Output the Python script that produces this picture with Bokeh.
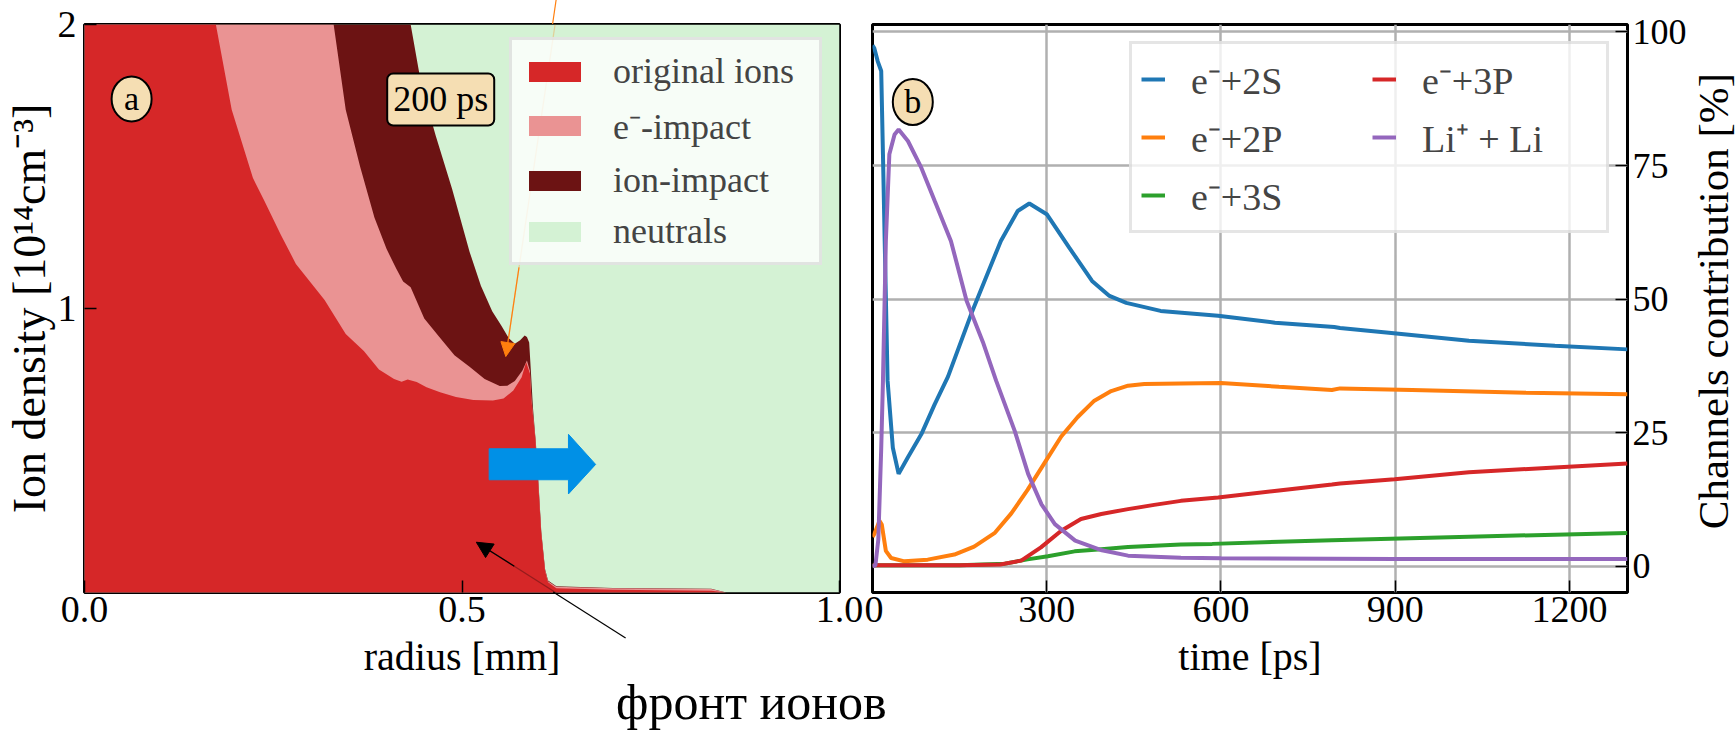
import math
from bokeh.plotting import figure
from bokeh.models import (Legend, LegendItem, Label, Arrow, NormalHead, PolyAnnotation,
                          Div, FixedTicker, NumeralTickFormatter, Range1d)
from bokeh.layouts import row, column
from bokeh.embed import file_html
from bokeh.resources import INLINE

FONT = "Liberation Serif"

# ---------------- panel (a): ion density profile at 200 ps ----------------
# cumulative densities [1e14 cm^-3] versus radius [mm]
r_total = [0.0, 1.0]
n_total = [2.0, 2.0]            # everything up to the top of the axis is neutral gas

r_ion = [0.0, 0.432, 0.446, 0.465, 0.487, 0.510, 0.525, 0.540, 0.552, 0.562, 0.570, 0.577,
         0.583, 0.586, 0.589, 0.591, 0.594, 0.598, 0.601, 0.605, 0.610, 0.614, 0.625, 0.700,
         0.830, 0.850, 1.0]
n_ion = [2.0, 2.0, 1.79, 1.61, 1.42, 1.20, 1.08, 0.99, 0.94, 0.895, 0.876, 0.888,
         0.905, 0.90, 0.88, 0.79, 0.65, 0.52, 0.40, 0.215, 0.083, 0.042, 0.022, 0.016,
         0.013, 0.0, 0.0]

r_e = [0.0, 0.330, 0.346, 0.365, 0.384, 0.400, 0.413, 0.422, 0.432, 0.450, 0.470, 0.490,
       0.510, 0.530, 0.550, 0.560, 0.570, 0.580, 0.586, 0.590, 0.592, 0.597, 0.601, 0.605,
       0.610, 0.614, 0.625, 0.700, 0.830, 0.850, 1.0]
n_e = [2.0, 2.0, 1.70, 1.50, 1.32, 1.21, 1.14, 1.095, 1.075, 0.965, 0.90, 0.835,
       0.795, 0.752, 0.727, 0.728, 0.745, 0.782, 0.817, 0.78, 0.68, 0.55, 0.39, 0.21,
       0.08, 0.04, 0.02, 0.015, 0.012, 0.0, 0.0]

r_orig = [0.0, 0.174, 0.195, 0.223, 0.238, 0.260, 0.280, 0.318, 0.346, 0.370, 0.390, 0.410,
          0.420, 0.428, 0.440, 0.453, 0.471, 0.492, 0.515, 0.541, 0.555, 0.568, 0.579, 0.585,
          0.590, 0.592, 0.597, 0.601, 0.605, 0.610, 0.614, 0.625, 0.700, 0.830, 0.850, 1.0]
n_orig = [2.0, 2.0, 1.70, 1.46, 1.38, 1.26, 1.157, 1.03, 0.91, 0.85, 0.785, 0.752,
          0.742, 0.750, 0.741, 0.723, 0.705, 0.688, 0.678, 0.676, 0.683, 0.711, 0.758, 0.811,
          0.771, 0.676, 0.547, 0.384, 0.207, 0.077, 0.036, 0.015, 0.010, 0.006, 0.0, 0.0]

layer_labels = ["original ions", "e\u207b-impact", "ion-impact", "neutrals"]
radius_ticks = [0.0, 0.5, 1.0]
density_ticks = [1, 2]

# ---------------- panel (b): channel contributions ----------------
t_2s = [0, 3, 9, 15, 18, 21, 26, 35, 45, 61, 84, 107, 130, 172, 221, 250, 270, 300, 339, 378,
        408, 437, 496, 595, 693, 795, 805, 889, 1027, 1175, 1300]
v_2s = [97.5, 97.0, 94.5, 92.7, 77.1, 60.9, 34.7, 22.2, 17.3, 20.4, 24.7, 30.3, 35.5, 47.8,
        60.9, 66.5, 67.9, 65.9, 59.6, 53.4, 50.6, 49.3, 47.8, 46.9, 45.6, 44.8, 44.6, 43.7,
        42.2, 41.3, 40.6]

t_2p = [0, 3, 12, 16, 23, 32, 55, 95, 141, 175, 210, 239, 267, 296, 325, 353, 382, 411, 440,
        468, 531, 600, 700, 791, 805, 929, 1125, 1300]
v_2p = [5.5, 6.0, 8.5, 7.8, 2.9, 1.55, 0.93, 1.25, 2.2, 3.7, 6.2, 9.9, 14.3, 19.3, 24.3, 27.9,
        31.0, 32.8, 33.8, 34.1, 34.2, 34.3, 33.6, 33.0, 33.3, 33.0, 32.5, 32.2]

t_3s = [0, 150, 228, 267, 302, 348, 394, 440, 531, 585, 791, 1027, 1300]
v_3s = [0.2, 0.2, 0.5, 1.3, 1.9, 2.8, 3.2, 3.6, 4.1, 4.2, 4.9, 5.55, 6.24]

t_3p = [0, 150, 220, 256, 290, 325, 359, 394, 440, 485, 531, 595, 700, 791, 805, 899, 1027,
        1175, 1300]
v_3p = [0.2, 0.2, 0.35, 1.07, 3.55, 6.67, 8.86, 9.8, 10.7, 11.5, 12.25, 12.9, 14.2, 15.3,
        15.5, 16.3, 17.6, 18.5, 19.25]

t_li = [0, 5, 10, 15, 18, 23, 29, 38, 45, 61, 84, 107, 135, 162, 190, 213, 245, 268, 291, 314,
        349, 395, 440, 531, 600, 899, 1300]
v_li = [0.0, 0.2, 5.0, 22.0, 34.7, 60.9, 77.1, 80.8, 81.75, 79.6, 74.6, 68.4, 60.9, 49.7, 42.0,
        34.7, 25.3, 17.3, 11.6, 7.9, 4.8, 3.0, 2.0, 1.6, 1.5, 1.37, 1.35]

channel_labels = ["e\u207b+2S", "e\u207b+2P", "e\u207b+3S", "e\u207b+3P", "Li\u207a + Li"]
time_ticks = [0, 300, 600, 900, 1200]
percent_ticks = [0, 25, 50, 75, 100]

RED, PINK, DARK, GREEN = "#d62728", "#ea9393", "#6c1313", "#d4f2d4"
C_2S, C_2P, C_3S, C_3P, C_LI = "#1f77b4", "#ff7f0e", "#2ca02c", "#d62728", "#9467bd"
WHEAT = "#f5deb3"

FRAME_W, FRAME_H = 755, 568
TOP, BOTTOM = 24, 100
FIG_H = TOP + FRAME_H + BOTTOM


def style_axes(p):
    for ax in (p.xaxis[0], p.yaxis[0]):
        ax.axis_line_color = None
        ax.major_tick_in = 12
        ax.major_tick_out = 0
        ax.major_tick_line_color = "black"
        ax.major_tick_line_width = 1.5
        ax.minor_tick_line_color = None
        ax.major_label_text_font = FONT
        ax.major_label_text_font_size = "38px"
        ax.major_label_text_color = "black"
        ax.axis_label_text_font = FONT
        ax.axis_label_text_font_style = "normal"
        ax.axis_label_text_color = "black"
    p.xaxis.major_label_standoff = 4
    p.xaxis.axis_label_standoff = 9
    p.xaxis.axis_label_text_font_size = "40px"
    p.outline_line_color = "black"
    p.outline_line_width = 3
    p.outline_line_alpha = 1
    p.background_fill_color = "white"
    p.border_fill_color = "white"


# ---------- panel (a) ----------
p1 = figure(frame_width=FRAME_W, frame_height=FRAME_H, x_range=Range1d(0, 1),
            y_range=Range1d(0, 2), output_backend="svg", toolbar_location=None,
            min_border_left=82, min_border_right=25, min_border_top=TOP,
            min_border_bottom=BOTTOM)
p1.grid.visible = False
style_axes(p1)
p1.xaxis.ticker = FixedTicker(ticks=radius_ticks)
p1.xaxis.formatter = NumeralTickFormatter(format="0.0")
p1.yaxis.ticker = FixedTicker(ticks=density_ticks)
p1.xaxis.axis_label = "radius [mm]"
p1.yaxis.axis_label = "Ion density [10\u00b9\u2074cm\u207b\u00b3]"
p1.yaxis.axis_label_text_font_size = "46px"
p1.yaxis.major_label_standoff = 8
p1.yaxis.axis_label_standoff = 0

g_neu = p1.varea(x=r_total, y1=0, y2=n_total, fill_color=GREEN)
g_ion = p1.varea(x=r_ion, y1=0, y2=n_ion, fill_color=DARK)
g_e = p1.varea(x=r_e, y1=0, y2=n_e, fill_color=PINK)
g_orig = p1.varea(x=r_orig, y1=0, y2=n_orig, fill_color=RED)

leg1 = Legend(items=[LegendItem(label=layer_labels[0], renderers=[g_orig]),
                     LegendItem(label=layer_labels[1], renderers=[g_e]),
                     LegendItem(label=layer_labels[2], renderers=[g_ion]),
                     LegendItem(label=layer_labels[3], renderers=[g_neu])],
              location=(425, 327), label_text_font=FONT, label_text_font_size="36px",
              glyph_width=65, glyph_height=25, label_standoff=26, spacing=9, padding=10,
              label_width=196, margin=0, background_fill_color="white",
              background_fill_alpha=0.8, border_line_color="#cccccc", border_line_width=3)
p1.add_layout(leg1)

# front direction arrow
p1.patch(x=[0.536, 0.641, 0.641, 0.677, 0.641, 0.641, 0.536],
         y=[0.506, 0.506, 0.557, 0.451, 0.347, 0.397, 0.397],
         fill_color="#0090e6", line_color="#0090e6")

# panel tag and time stamp
p1.ellipse(x=[0.0624], y=[1.738], width=40, height=45, width_units="screen",
           height_units="screen", fill_color=WHEAT, line_color="black", line_width=2)
p1.add_layout(Label(x=0.0624, y=1.738, text="a", text_align="center", text_baseline="middle",
                    text_font=FONT, text_font_size="34px", text_color="black"))
p1.add_layout(Label(x=0.4718, y=1.736, text="200 ps", text_align="center",
                    text_baseline="middle", text_font=FONT, text_font_size="36px",
                    text_color="black", background_fill_color=WHEAT,
                    border_line_color="black", border_line_width=2, padding=6,
                    border_radius=6))

# pointer arrows
orange_tail, orange_tip = (0.628, 2.085), (0.558, 0.831)
black_tail, black_tip = (0.720, -0.162), (0.519, 0.177)
for (tx, ty), (hx, hy), col, hsize in ((orange_tail, orange_tip, "#ff7f0e", 14),
                                       (black_tail, black_tip, "black", 16)):
    p1.add_layout(PolyAnnotation(xs=[tx, hx], ys=[ty, hy], line_color=col, line_width=1.2,
                                 fill_alpha=0))
    sx = hx + 0.25 * (tx - hx)
    sy = hy + 0.25 * (ty - hy)
    p1.add_layout(Arrow(x_start=sx, y_start=sy, x_end=hx, y_end=hy, line_color=col,
                        line_width=1.2,
                        end=NormalHead(size=hsize, fill_color=col, line_color=col)))

# ---------- panel (b) ----------
p2 = figure(frame_width=FRAME_W, frame_height=FRAME_H, x_range=Range1d(0, 1300),
            y_range=Range1d(-4.9, 101.4), y_axis_location="right",
            output_backend="svg", toolbar_location=None,
            min_border_left=8, min_border_right=60, min_border_top=TOP,
            min_border_bottom=BOTTOM)
style_axes(p2)
p2.xaxis.ticker = FixedTicker(ticks=time_ticks)
p2.yaxis.ticker = FixedTicker(ticks=percent_ticks)
p2.yaxis.major_label_text_font_size = "36px"
p2.yaxis.major_label_standoff = 5
p2.xaxis.axis_label = "time [ps]"
p2.grid.grid_line_color = "#b0b0b0"
p2.grid.grid_line_width = 2.5
p2.xgrid.ticker = FixedTicker(ticks=time_ticks)
p2.ygrid.ticker = FixedTicker(ticks=percent_ticks)

series = [(t_2s, v_2s, C_2S), (t_2p, v_2p, C_2P), (t_3s, v_3s, C_3S),
          (t_3p, v_3p, C_3P), (t_li, v_li, C_LI)]
lines = [p2.line(t, v, line_color=c, line_width=4) for t, v, c in series]

leg2 = Legend(items=[LegendItem(label=lab, renderers=[ln])
                     for lab, ln in zip(channel_labels, lines)],
              ncols=2, location=(257, 359), label_text_font=FONT, label_text_font_size="38px",
              glyph_width=24, glyph_height=20, label_standoff=26, spacing=6, padding=9,
              label_width=175, margin=0, background_fill_color="white",
              background_fill_alpha=0.8, border_line_color="#cccccc", border_line_width=3)
p2.add_layout(leg2)

p2.ellipse(x=[69.4], y=[86.9], width=40, height=46, width_units="screen",
           height_units="screen", fill_color=WHEAT, line_color="black", line_width=2)
p2.add_layout(Label(x=69.4, y=86.9, text="b", text_align="center", text_baseline="middle",
                    text_font=FONT, text_font_size="34px", text_color="black"))

# ---------- strip holding the right-hand axis title (reads bottom to top) ----------
STRIP_W = 50
p3 = figure(width=STRIP_W, height=FIG_H, x_range=Range1d(0, 1), y_range=Range1d(0, 1),
            x_axis_location=None, y_axis_location=None,
            output_backend="svg", toolbar_location=None, min_border_left=0,
            min_border_right=0, min_border_top=0, min_border_bottom=0)
p3.grid.visible = False
p3.outline_line_color = None
p3.background_fill_color = "white"
p3.border_fill_color = "white"
p3.add_layout(Label(x=0.48, y=1 - 337 / FIG_H, text="Channels contribution [%]",
                    angle=math.pi / 2, text_align="center", text_baseline="middle",
                    text_font=FONT, text_font_size="43px", text_color="black"))

# caption under panel (a); the thin pointer segments that run past the frame are
# drawn in an overlay anchored at the caption's top-left corner
overlay = (
    '<div style="position:relative;width:0;height:0;">'
    f'<svg width="1735" height="730" style="position:absolute;left:0;top:-{FIG_H}px;'
    'overflow:visible;pointer-events:none;">'
    '<line x1="556.1" y1="0" x2="552.6" y2="24" stroke="#ff7f0e" stroke-width="1.2"/>'
    '<line x1="553.2" y1="592" x2="625.6" y2="638" stroke="black" stroke-width="1.2"/>'
    '</svg></div>'
)
caption = Div(text=overlay +
              '<div style="padding-left:616px;font-family:\'Liberation Serif\';'
              'font-size:50px;line-height:50px;white-space:nowrap;position:relative;'
              'top:-15px;color:black;">фронт ионов</div>',
              width=1735, height=730 - FIG_H, margin=(0, 0, 0, 0))

layout = column(row(p1, p2, p3), caption)
open("out.html", "w").write(file_html(layout, INLINE))
